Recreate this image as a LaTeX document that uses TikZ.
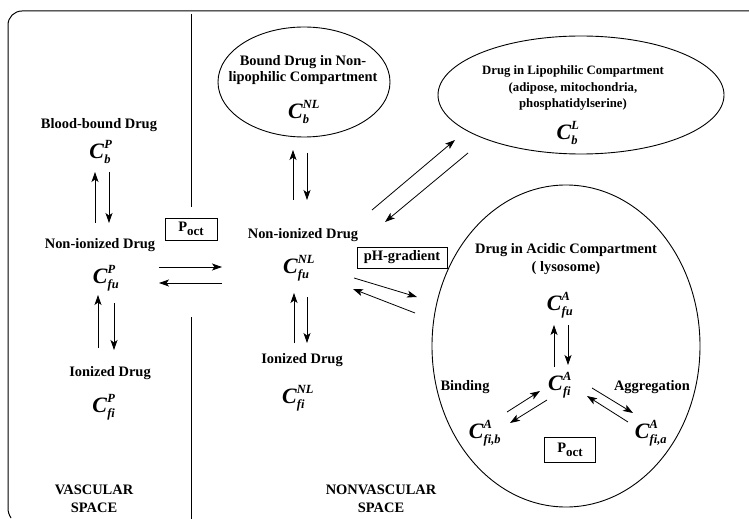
\documentclass[tikz,border=0pt]{standalone}
\usepackage{fontspec}
\usepackage{amsmath}
\setmainfont{Liberation Serif}
\usetikzlibrary{arrows.meta,shapes.geometric}
\DeclareMathSizes{22}{22}{12.5}{9}
\newcommand{\conc}[2]{{\fontsize{22}{22}\selectfont$\textbf{\textit{C}}^{\textbf{\textit{#2}}}_{\textbf{\textit{#1}}}$}}
\newcommand{\poct}{P\raisebox{-4bp}{\fontsize{13}{13}\selectfont oct}}
\begin{document}
\begin{tikzpicture}[x=1bp,y=-1bp,
  lbl/.style={font=\fontsize{14.5}{18}\selectfont\bfseries, align=center, inner sep=0},
  lbltight/.style={font=\fontsize{14.5}{16.5}\selectfont\bfseries, align=center, inner sep=0},
  lblsmall/.style={font=\fontsize{12.8}{16.5}\selectfont\bfseries, align=center, inner sep=0},
  conc/.style={inner sep=0},
  arr/.style={-{Stealth[length=10bp,width=7bp,inset=2.5bp]}, line width=0.8bp},
  boxed/.style={draw, line width=0.9bp, font=\fontsize{14.5}{16}\selectfont\bfseries, inner sep=0},
  comp/.style={ellipse, draw, line width=0.9bp, inner sep=0}]
\useasboundingbox (0,0) rectangle (749,519);
\fill[white] (0,0) rectangle (749,519);
% frame
\draw[line width=1bp] (749,11) -- (22,11) to[out=180,in=90] (8,25) -- (8,508) to[out=-90,in=120] (11,518);
% divider
\draw[line width=0.8bp] (191,14) -- (191,207);
\draw[line width=0.8bp] (191,317) -- (191,519);

% ---------- vascular space ----------
\node[lbl] (bbd) at (99,125) {Blood-bound Drug};
\node[conc] (cbp) at (101,152) {\conc{b}{P}};
\coordinate (v1a) at (95,223); \coordinate (v1b) at (95,172);
\coordinate (v1c) at (109,172); \coordinate (v1d) at (109,223);
\draw[arr] (v1a) -- (v1b);
\draw[arr] (v1c) -- (v1d);
\node[lbl] (nidp) at (100,245) {Non-ionized Drug};
\node[conc] (cfup) at (106,278) {\conc{fu}{P}};
\coordinate (v2a) at (98,348); \coordinate (v2b) at (98,295);
\coordinate (v2c) at (114,303); \coordinate (v2d) at (114,350);
\draw[arr] (v2a) -- (v2b);
\draw[arr] (v2c) -- (v2d);
\node[lbl] (idp) at (110,373) {Ionized Drug};
\node[conc] (cfip) at (104,407) {\conc{fi}{P}};
\node[lbl] (vs) at (94,499) {VASCULAR\\SPACE};

\node[boxed, minimum width=52bp, minimum height=22bp] (poct1) at (191,229) {\poct};
\coordinate (h1a) at (159,267); \coordinate (h1b) at (222,267);
\coordinate (h2a) at (222,283); \coordinate (h2b) at (159,283);
\draw[arr] (h1a) -- (h1b);
\draw[arr] (h2a) -- (h2b);

% ---------- nonvascular space ----------
\node[comp, minimum width=172bp, minimum height=110bp] (bound) at (304,82) {};
\node[lbltight] (boundt) at (303,70) {Bound Drug in Non-\\lipophilic Compartment};
\node[conc] (cbnl) at (304,112) {\conc{b}{NL}};
\coordinate (n1a) at (293,200); \coordinate (n1b) at (293,150);
\coordinate (n1c) at (307,153); \coordinate (n1d) at (307,200);
\draw[arr] (n1a) -- (n1b);
\draw[arr] (n1c) -- (n1d);
\node[lbl] (nidnl) at (303,235) {Non-ionized Drug};
\node[conc] (cfunl) at (299,268) {\conc{fu}{NL}};
\coordinate (n2a) at (294,343); \coordinate (n2b) at (294,293);
\coordinate (n2c) at (307,297); \coordinate (n2d) at (307,343);
\draw[arr] (n2a) -- (n2b);
\draw[arr] (n2c) -- (n2d);
\node[lbl] (idnl) at (302,360) {Ionized Drug};
\node[conc] (cfinl) at (298,398) {\conc{fi}{NL}};
\node[lbl] (nvs) at (381,499) {NONVASCULAR\\SPACE};

% lipophilic
\node[comp, minimum width=286bp, minimum height=118bp] (lipo) at (581,95) {};
\node[lblsmall] (lipot) at (573,88) {Drug in Lipophilic Compartment\\(adipose, mitochondria,\\phosphatidylserine)};
\node[conc] (cbl) at (568,133) {\conc{b}{L}};
\coordinate (d1a) at (372,210); \coordinate (d1b) at (455,140);
\coordinate (d2a) at (468,153); \coordinate (d2b) at (385,222);
\draw[arr] (d1a) -- (d1b);
\draw[arr] (d2a) -- (d2b);

% pH gradient
\node[boxed, minimum width=90bp, minimum height=21bp] (ph) at (402,257.5) {pH-gradient};
\coordinate (p1a) at (354,278); \coordinate (p1b) at (417,297);
\coordinate (p2a) at (415,313); \coordinate (p2b) at (353,289);
\draw[arr] (p1a) -- (p1b);
\draw[arr] (p2a) -- (p2b);

% acidic
\node[comp, minimum width=268bp, minimum height=322bp] (acid) at (566,346) {};
\node[lbl] (acidt) at (566,259) {Drug in Acidic Compartment\\( lysosome)};
\node[conc] (cfua) at (560,305) {\conc{fu}{A}};
\coordinate (a1a) at (554,367); \coordinate (a1b) at (554,325);
\coordinate (a1c) at (568,325); \coordinate (a1d) at (568,365);
\draw[arr] (a1a) -- (a1b);
\draw[arr] (a1c) -- (a1d);
\node[conc] (cfia) at (560,385) {\conc{fi}{A}};
\node[lbl] (bind) at (465,387) {Binding};
\node[lbl] (aggr) at (652,387) {Aggregation};
\node[conc] (cfib) at (485,433) {\conc{fi,b}{A}};
\node[conc] (cfiaa) at (651,433) {\conc{fi,a}{A}};
\coordinate (b1a) at (507,412); \coordinate (b1b) at (540,391);
\coordinate (b2a) at (547,400); \coordinate (b2b) at (510,423);
\draw[arr] (b1a) -- (b1b);
\draw[arr] (b2a) -- (b2b);
\coordinate (g1a) at (592,388); \coordinate (g1b) at (633,413);
\coordinate (g2a) at (628,422); \coordinate (g2b) at (587,396);
\draw[arr] (g1a) -- (g1b);
\draw[arr] (g2a) -- (g2b);
\node[boxed, minimum width=51bp, minimum height=25bp] (poct2) at (570,450) {\poct};
\end{tikzpicture}
\end{document}
